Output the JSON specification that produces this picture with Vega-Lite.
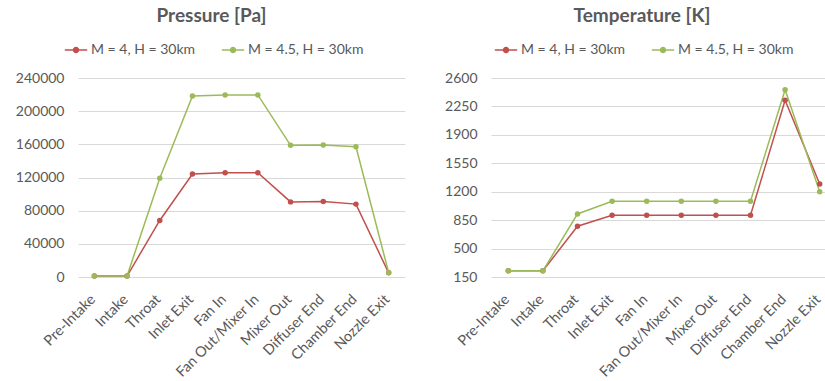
{
  "$schema": "https://vega.github.io/schema/vega-lite/v6.json",
  "background": "white",
  "padding": {"left": 15, "top": 7, "right": 0, "bottom": 0},
  "spacing": 86,
  "bounds": "flush",
  "datasets": {
    "engine": [
      {"stage": "Pre-Intake", "series": "M = 4, H = 30km", "pressure": 1197, "temperature": 226},
      {"stage": "Intake", "series": "M = 4, H = 30km", "pressure": 1197, "temperature": 226},
      {"stage": "Throat", "series": "M = 4, H = 30km", "pressure": 68200, "temperature": 775},
      {"stage": "Inlet Exit", "series": "M = 4, H = 30km", "pressure": 124100, "temperature": 910},
      {"stage": "Fan In", "series": "M = 4, H = 30km", "pressure": 125700, "temperature": 910},
      {"stage": "Fan Out/Mixer In", "series": "M = 4, H = 30km", "pressure": 125700, "temperature": 910},
      {"stage": "Mixer Out", "series": "M = 4, H = 30km", "pressure": 90600, "temperature": 910},
      {"stage": "Diffuser End", "series": "M = 4, H = 30km", "pressure": 91100, "temperature": 910},
      {"stage": "Chamber End", "series": "M = 4, H = 30km", "pressure": 87900, "temperature": 2327},
      {"stage": "Nozzle Exit", "series": "M = 4, H = 30km", "pressure": 5000, "temperature": 1296},
      {"stage": "Pre-Intake", "series": "M = 4.5, H = 30km", "pressure": 1197, "temperature": 226},
      {"stage": "Intake", "series": "M = 4.5, H = 30km", "pressure": 1197, "temperature": 226},
      {"stage": "Throat", "series": "M = 4.5, H = 30km", "pressure": 119000, "temperature": 926},
      {"stage": "Inlet Exit", "series": "M = 4.5, H = 30km", "pressure": 218400, "temperature": 1083},
      {"stage": "Fan In", "series": "M = 4.5, H = 30km", "pressure": 219600, "temperature": 1083},
      {"stage": "Fan Out/Mixer In", "series": "M = 4.5, H = 30km", "pressure": 219600, "temperature": 1083},
      {"stage": "Mixer Out", "series": "M = 4.5, H = 30km", "pressure": 158800, "temperature": 1083},
      {"stage": "Diffuser End", "series": "M = 4.5, H = 30km", "pressure": 159200, "temperature": 1083},
      {"stage": "Chamber End", "series": "M = 4.5, H = 30km", "pressure": 157100, "temperature": 2455},
      {"stage": "Nozzle Exit", "series": "M = 4.5, H = 30km", "pressure": 5300, "temperature": 1200}
    ]
  },
  "config": {
    "font": "Lato",
    "view": {"stroke": null},
    "axis": {
      "labelFont": "Lato",
      "labelFontSize": 14,
      "labelColor": "#595959",
      "domain": false,
      "ticks": false,
      "title": null
    },
    "axisY": {"gridColor": "#D9D9D9", "gridWidth": 1, "labelPadding": 14},
    "axisX": {"grid": false, "labelAngle": -45, "labelFontSize": 14.5, "labelBaseline": "top", "labelAlign": "right", "labelPadding": 15, "labelOffset": -6},
    "legend": {
      "orient": "none",
      "direction": "horizontal",
      "title": null,
      "labelFont": "Lato",
      "labelFontSize": 14,
      "labelColor": "#595959",
      "symbolType": "M-1,0L1,0M-0.22,0a0.22,0.22 0 1,0 0.44,0a0.22,0.22 0 1,0 -0.44,0",
      "symbolSize": 500,
      "symbolStrokeWidth": 1.5,
      "labelOffset": 3,
      "columnPadding": 22,
      "legendY": -40
    },
    "title": {
      "font": "Lato",
      "fontSize": 19,
      "fontWeight": "bold",
      "color": "#595959",
      "anchor": "middle",
      "offset": 12
    }
  },
  "resolve": {"legend": {"color": "independent"}},
  "hconcat": [
    {
      "title": {"text": "Pressure [Pa]", "dx": -30},
      "width": 327,
      "height": 199,
      "data": {"name": "engine"},
      "mark": {"type": "line", "strokeWidth": 1.5, "point": {"filled": true, "size": 30}},
      "encoding": {
        "x": {
          "field": "stage",
          "type": "nominal",
          "sort": ["Pre-Intake", "Intake", "Throat", "Inlet Exit", "Fan In", "Fan Out/Mixer In", "Mixer Out", "Diffuser End", "Chamber End", "Nozzle Exit"],
          "scale": {"type": "band", "paddingInner": 0, "paddingOuter": 0}
        },
        "y": {
          "field": "pressure",
          "type": "quantitative",
          "scale": {"domain": [0, 240000], "nice": false},
          "axis": {"values": [0, 40000, 80000, 120000, 160000, 200000, 240000], "format": "d"}
        },
        "color": {
          "field": "series",
          "type": "nominal",
          "scale": {"domain": ["M = 4, H = 30km", "M = 4.5, H = 30km"], "range": ["#C0504D", "#9BBB59"]},
          "legend": {
            "legendX": -14,
            "encode": {
              "symbols": {
                "update": {
                  "fill": {"scale": "color", "field": "value"},
                  "stroke": {"scale": "color", "field": "value"}
                }
              }
            }
          }
        }
      }
    },
    {
      "title": {"text": "Temperature [K]", "dx": -16},
      "width": 334,
      "height": 199,
      "data": {"name": "engine"},
      "mark": {"type": "line", "strokeWidth": 1.5, "point": {"filled": true, "size": 30}},
      "encoding": {
        "x": {
          "field": "stage",
          "type": "nominal",
          "sort": ["Pre-Intake", "Intake", "Throat", "Inlet Exit", "Fan In", "Fan Out/Mixer In", "Mixer Out", "Diffuser End", "Chamber End", "Nozzle Exit"],
          "scale": {"type": "band", "paddingInner": 0, "paddingOuter": 0, "range": [0, 346]}
        },
        "y": {
          "field": "temperature",
          "type": "quantitative",
          "scale": {"domain": [150, 2600], "nice": false, "zero": false},
          "axis": {"values": [150, 500, 850, 1200, 1550, 1900, 2250, 2600], "format": "d"}
        },
        "color": {
          "field": "series",
          "type": "nominal",
          "scale": {"domain": ["M = 4, H = 30km", "M = 4.5, H = 30km"], "range": ["#C0504D", "#9BBB59"]},
          "legend": {
            "legendX": 3,
            "encode": {
              "symbols": {
                "update": {
                  "fill": {"scale": "color", "field": "value"},
                  "stroke": {"scale": "color", "field": "value"}
                }
              }
            }
          }
        }
      }
    }
  ]
}
